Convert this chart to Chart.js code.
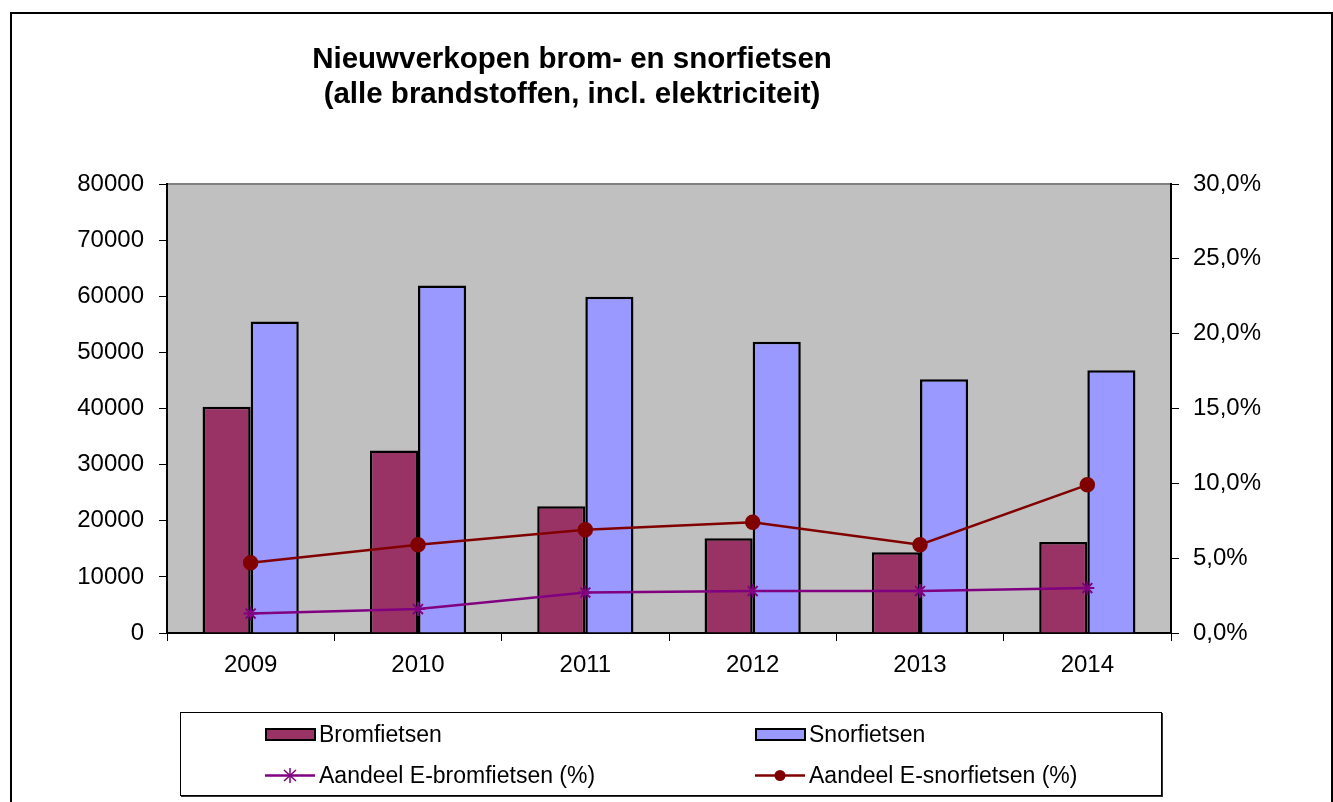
<!DOCTYPE html>
<html>
<head>
<meta charset="utf-8">
<script src="https://cdn.jsdelivr.net/npm/chart.js@4.4.0/dist/chart.umd.min.js"></script>
<style>
    body { margin: 0; background: #fff; font-family: 'Liberation Sans', Arial, sans-serif; }
    #wrap { position: relative; width: 1333px; height: 802px; overflow: hidden; }
    #frame { position: absolute; left: 10px; top: 12px; width: 1319px; height: 820px; border: 2px solid #000; }
    #chart { position: absolute; left: 0; top: 0; }
    #title { position: absolute; left: 222px; width: 700px; top: 40px; text-align: center;
             font-weight: bold; font-size: 29.5px; line-height: 35px; color: #000; }
    #legend { position: absolute; left: 180px; top: 712px; width: 980px; height: 82px;
              border: 1px solid #000; box-shadow: 1px 1px 0 #333; }
    .item { position: absolute; font-size: 23px; color: #000; line-height: 24px; white-space: nowrap; }
    .item svg { position: absolute; left: 0; top: 0; }
    .item span { position: absolute; left: 54px; top: 0; }
</style>
</head>
<body>
<div id="wrap">
    <div id="frame"></div>
    <canvas id="chart" width="1333" height="802"></canvas>
    <div id="title">Nieuwverkopen brom- en snorfietsen<br>(alle brandstoffen, incl. elektriciteit)</div>
    <div id="legend"></div>
</div>
<script>
    var years = ['2009', '2010', '2011', '2012', '2013', '2014'];
    var bromfietsen = [40300, 32500, 22600, 16900, 14400, 16200];
    var snorfietsen = [55500, 61900, 59900, 51900, 45200, 46800];
    var aandeelEBrom = [1.3, 1.6, 2.7, 2.8, 2.8, 3.0];
    var aandeelESnor = [4.7, 5.9, 6.9, 7.4, 5.9, 9.9];

    var fontFamily = "'Liberation Sans', Arial, sans-serif";

    // grey plot area + grey top edge like the spreadsheet original
    var plotBackground = {
        id: 'plotBackground',
        beforeDraw: function (chart) {
            var a = chart.chartArea, ctx = chart.ctx;
            ctx.save();
            ctx.fillStyle = '#c0c0c0';
            ctx.fillRect(a.left, a.top, a.right - a.left, a.bottom - a.top);
            ctx.strokeStyle = '#808080';
            ctx.lineWidth = 2;
            ctx.beginPath();
            ctx.moveTo(a.left, a.top);
            ctx.lineTo(a.right, a.top);
            ctx.stroke();
            ctx.restore();
        }
    };

    var config = {
        type: 'bar',
        data: {
            labels: years,
            datasets: [{
                type: 'line',
                label: 'Aandeel E-bromfietsen (%)',
                data: aandeelEBrom,
                yAxisID: 'y1',
                borderColor: '#800080',
                borderWidth: 2.5,
                pointStyle: 'star',
                pointRadius: 7,
                pointBorderColor: '#800080',
                pointBorderWidth: 2,
                tension: 0,
                order: 0
            }, {
                type: 'line',
                label: 'Aandeel E-snorfietsen (%)',
                data: aandeelESnor,
                yAxisID: 'y1',
                borderColor: '#800000',
                borderWidth: 2.5,
                pointStyle: 'circle',
                pointRadius: 6.5,
                pointBackgroundColor: '#800000',
                pointBorderColor: '#800000',
                tension: 0,
                order: 0
            }, {
                label: 'Bromfietsen',
                data: bromfietsen,
                yAxisID: 'y',
                backgroundColor: '#993366',
                borderColor: '#000',
                borderWidth: 2.5,
                order: 1
            }, {
                label: 'Snorfietsen',
                data: snorfietsen,
                yAxisID: 'y',
                backgroundColor: '#9999ff',
                borderColor: '#000',
                borderWidth: 2.5,
                order: 1
            }]
        },
        options: {
            responsive: false,
            animation: false,
            barPercentage: 1,
            categoryPercentage: 0.575,
            layout: { padding: { top: 184, bottom: 0, left: 0, right: 0 } },
            plugins: {
                legend: { display: false },
                title: { display: false },
                tooltip: { enabled: false }
            },
            scales: {
                x: {
                    offset: true,
                    grid: { offset: true, drawOnChartArea: false, tickLength: 8, color: '#000', lineWidth: 1 },
                    border: { color: '#000', width: 2 },
                    ticks: { color: '#000', padding: 10, font: { family: fontFamily, size: 24 } },
                    afterFit: function (scale) { scale.height = 802 - 633; }
                },
                y: {
                    position: 'left',
                    min: 0,
                    max: 80000,
                    grid: { drawOnChartArea: false, tickLength: 8, color: '#000', lineWidth: 1 },
                    border: { color: '#000', width: 2 },
                    ticks: {
                        stepSize: 10000,
                        color: '#000',
                        padding: 15,
                        font: { family: fontFamily, size: 24 },
                        callback: function (v) { return String(v); }
                    },
                    afterFit: function (scale) { scale.width = 167; }
                },
                y1: {
                    position: 'right',
                    min: 0,
                    max: 30,
                    grid: { drawOnChartArea: false, tickLength: 8, color: '#000', lineWidth: 1 },
                    border: { color: '#000', width: 2 },
                    ticks: {
                        stepSize: 5,
                        color: '#000',
                        padding: 14,
                        font: { family: fontFamily, size: 24 },
                        callback: function (v) { return v.toFixed(1).replace('.', ',') + '%'; }
                    },
                    afterFit: function (scale) { scale.width = 1333 - 1171; }
                }
            }
        },
        plugins: [plotBackground]
    };

    var ctx = document.getElementById('chart').getContext('2d');
    window.myChart = new Chart(ctx, config);

    // legend in two columns, like the original box
    var legendItems = [
        { text: 'Bromfietsen', kind: 'box', color: '#993366', x: 84, y: 9 },
        { text: 'Snorfietsen', kind: 'box', color: '#9999ff', x: 574, y: 9 },
        { text: 'Aandeel E-bromfietsen (%)', kind: 'star', color: '#800080', x: 84, y: 50 },
        { text: 'Aandeel E-snorfietsen (%)', kind: 'dot', color: '#800000', x: 574, y: 50 }
    ];
    var legend = document.getElementById('legend');
    legendItems.forEach(function (it) {
        var svg;
        if (it.kind === 'box') {
            svg = '<svg width="52" height="24"><rect x="1" y="7" width="49" height="11" fill="' + it.color +
                '" stroke="#000" stroke-width="2"/></svg>';
        } else if (it.kind === 'star') {
            svg = '<svg width="52" height="24"><line x1="0" y1="12.5" x2="50" y2="12.5" stroke="' + it.color +
                '" stroke-width="2.5"/><g stroke="' + it.color + '" stroke-width="1.5">' +
                '<line x1="25" y1="5" x2="25" y2="20"/><line x1="19" y1="7" x2="31" y2="18"/>' +
                '<line x1="31" y1="7" x2="19" y2="18"/></g></svg>';
        } else {
            svg = '<svg width="52" height="24"><line x1="0" y1="12.5" x2="50" y2="12.5" stroke="' + it.color +
                '" stroke-width="2.5"/><circle cx="25" cy="12.5" r="5.5" fill="' + it.color + '"/></svg>';
        }
        var div = document.createElement('div');
        div.className = 'item';
        div.style.left = it.x + 'px';
        div.style.top = it.y + 'px';
        div.innerHTML = svg + '<span>' + it.text + '</span>';
        legend.appendChild(div);
    });
</script>
</body>
</html>
